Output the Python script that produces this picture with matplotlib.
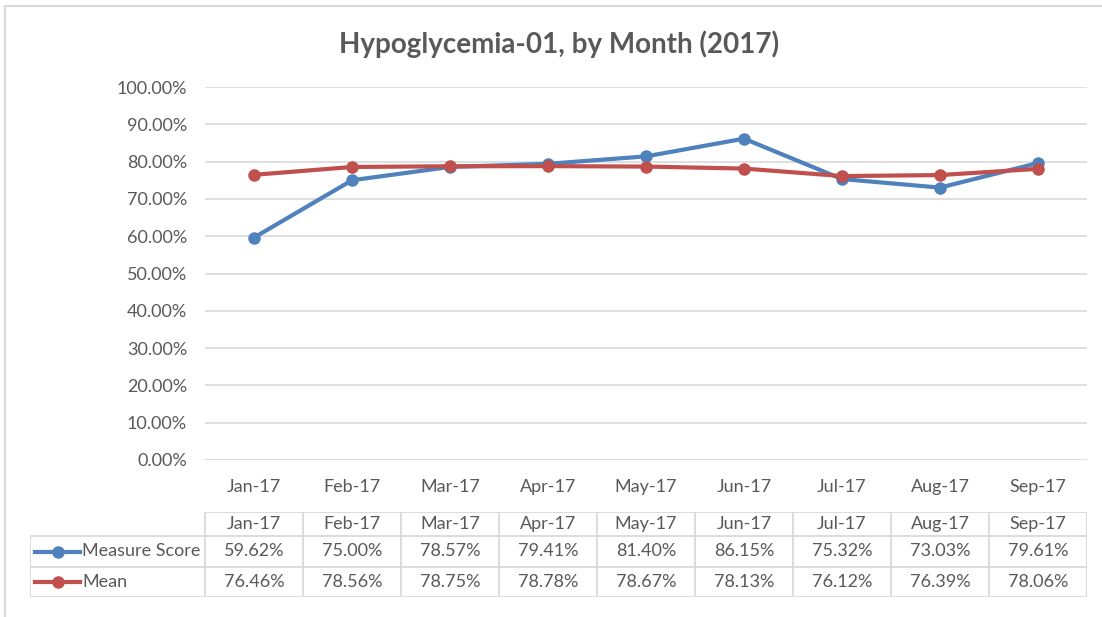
import matplotlib
matplotlib.use("Agg")
import matplotlib.pyplot as plt
from matplotlib.patches import Rectangle
from matplotlib.lines import Line2D

# dados do gráfico
months = ["Jan-17", "Feb-17", "Mar-17", "Apr-17", "May-17", "Jun-17", "Jul-17", "Aug-17", "Sep-17"]
measure_score = [59.62, 75.00, 78.57, 79.41, 81.40, 86.15, 75.32, 73.03, 79.61]
mean = [76.46, 78.56, 78.75, 78.78, 78.67, 78.13, 76.12, 76.39, 78.06]
series_names = ["Measure Score", "Mean"]
y_ticks = [0, 10, 20, 30, 40, 50, 60, 70, 80, 90, 100]

BLUE = "#4F81BD"
RED = "#C0504D"
TEXT = "#595959"
GRID = "#D9D9D9"
FS = 13

plt.rcParams['font.family'] = ['Lato', 'DejaVu Sans']

W, H = 1102, 617
fig = plt.figure(figsize=(W / 100, H / 100), dpi=100)

def px(x0, y0, x1, y1):
    # converte pixels (origem no topo) para coordenadas da figura
    return [x0 / W, 1 - y1 / H, (x1 - x0) / W, (y1 - y0) / H]

# moldura externa
fig.patches.append(Rectangle((5 / W, -0.1), 1.2, 1 - 6 / H + 0.1, transform=fig.transFigure,
                             fill=False, edgecolor=GRID, linewidth=1.5))

ax = fig.add_axes(px(205, 87, 1087, 460))
x = list(range(len(months)))
ax.plot(x, measure_score, color=BLUE, linewidth=3, marker="o", markersize=8, zorder=3)
ax.plot(x, mean, color=RED, linewidth=3, marker="o", markersize=8, zorder=4)
ax.set_xlim(-0.5, len(months) - 0.5)
ax.set_ylim(0, 100)
ax.set_yticks(y_ticks)
ax.set_yticklabels([f"{v:.2f}%" for v in y_ticks])
ax.set_xticks(x)
ax.set_xticklabels(months)
ax.grid(axis="y", color=GRID, linewidth=1.2)
ax.set_axisbelow(True)
for s in ax.spines.values():
    s.set_visible(False)
ax.tick_params(length=0, labelsize=FS, colors=TEXT)
ax.tick_params(axis="y", pad=13)
ax.tick_params(axis="x", pad=14)

fig.text(559 / W, 1 - 44 / H, "Hypoglycemia-01, by Month (2017)", ha="center", va="center",
         fontsize=20, fontweight="bold", color=TEXT)

# tabela de dados
tx = fig.add_axes(px(30, 512, 1087, 597))
left = -0.5 - (205 - 30) / 98
tx.set_xlim(left, len(months) - 0.5)
tx.set_ylim(597, 512)
tx.axis("off")
rows = [512, 536, 567, 597]
lw = 1.3
# linhas horizontais
tx.plot([-0.5, len(months) - 0.5], [rows[0], rows[0]], color=GRID, lw=lw)
for r in rows[1:]:
    tx.plot([left, len(months) - 0.5], [r, r], color=GRID, lw=lw)
# linhas verticais
tx.plot([left, left], [rows[1], rows[3]], color=GRID, lw=lw)
for i in range(len(months) + 1):
    tx.plot([i - 0.5, i - 0.5], [rows[0], rows[3]], color=GRID, lw=lw)

for i, m in enumerate(months):
    tx.text(i, (rows[0] + rows[1]) / 2, m, ha="center", va="center", fontsize=FS, color=TEXT)
for vals, r0, r1 in [(measure_score, rows[1], rows[2]), (mean, rows[2], rows[3])]:
    for i, v in enumerate(vals):
        tx.text(i, (r0 + r1) / 2, f"{v:.2f}%", ha="center", va="center", fontsize=FS, color=TEXT)

for name, col, r0, r1 in [(series_names[0], BLUE, rows[1], rows[2]),
                          (series_names[1], RED, rows[2], rows[3])]:
    yc = (r0 + r1) / 2
    x0 = left + 5 / 98
    x1 = left + 50 / 98
    tx.add_line(Line2D([x0, x1], [yc, yc], color=col, lw=3))
    tx.plot([(x0 + x1) / 2], [yc], marker="o", color=col, markersize=8)
    tx.text(x1 + 2 / 98, yc, name, ha="left", va="center", fontsize=FS, color=TEXT)

fig.savefig("out.png", dpi=100)
